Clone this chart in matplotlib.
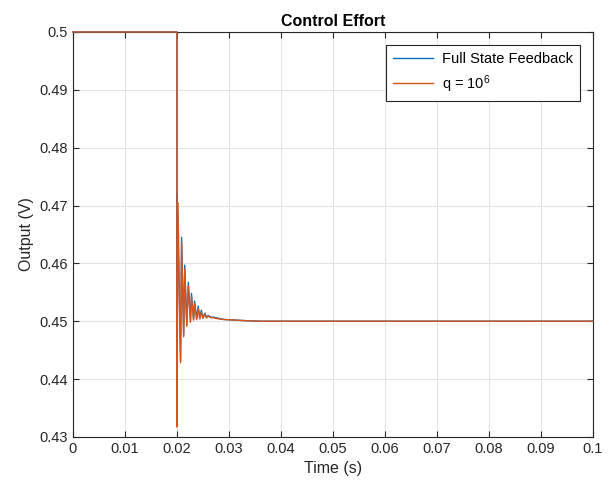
import numpy as np
import matplotlib
matplotlib.use("Agg")
import matplotlib.pyplot as plt

plt.rcParams['font.family'] = ['Liberation Sans', 'DejaVu Sans']
plt.rcParams['mathtext.fontset'] = 'custom'
plt.rcParams['mathtext.rm'] = 'Liberation Sans'
plt.rcParams['mathtext.it'] = 'Liberation Sans:italic'

# Full State Feedback (peaks / troughs)
t_fsf = [0, 0.02, 0.02, 0.02005, 0.0207, 0.0209, 0.0213, 0.0215, 0.0219, 0.0222,
         0.0226, 0.0228, 0.0232, 0.0234, 0.0238, 0.0241, 0.0244, 0.0247, 0.0250,
         0.0254, 0.0257, 0.026, 0.0265, 0.027, 0.028, 0.029, 0.031, 0.033, 0.036, 0.1]
y_fsf = [0.5, 0.5, 0.4325, 0.4720, 0.4432, 0.4645, 0.4476, 0.4597, 0.4494, 0.4567,
         0.4500, 0.4548, 0.4503, 0.4535, 0.4504, 0.4526, 0.4505, 0.4519, 0.4506,
         0.4514, 0.4506, 0.4510, 0.4507, 0.4507, 0.4505, 0.4503, 0.4502, 0.4501, 0.4500, 0.4500]

# q = 10^6
t_q = [0, 0.02, 0.02, 0.0202, 0.0207, 0.0209, 0.0213, 0.0215, 0.0219, 0.0222,
       0.0226, 0.0228, 0.0232, 0.0234, 0.0238, 0.0241, 0.0244, 0.0247, 0.0250,
       0.0254, 0.0257, 0.026, 0.0265, 0.027, 0.028, 0.029, 0.031, 0.033, 0.036, 0.1]
y_q = [0.5, 0.5, 0.4317, 0.4705, 0.4428, 0.4638, 0.4473, 0.4590, 0.4491, 0.4561,
       0.4498, 0.4543, 0.4502, 0.4531, 0.4503, 0.4522, 0.4504, 0.4516, 0.4505,
       0.4512, 0.4506, 0.4509, 0.4506, 0.4506, 0.4504, 0.4503, 0.4502, 0.4501, 0.4500, 0.4500]

xticks = np.round(np.arange(0, 0.1001, 0.01), 2)
yticks = np.round(np.arange(0.43, 0.5001, 0.01), 2)

fig = plt.figure(figsize=(6.13, 4.92), dpi=100)
ax = fig.add_axes([0.119, 0.112, 0.848, 0.823])

ax.plot(t_fsf, y_fsf, color='#0072BD', lw=1.0, label='Full State Feedback', clip_on=False, zorder=3)
ax.plot(t_q, y_q, color='#D95319', lw=1.0, label='q = $10^6$', clip_on=False, zorder=3)

ax.set_xlim(0, 0.1)
ax.set_ylim(0.43, 0.5)
ax.set_xticks(xticks)
ax.set_xticklabels(['0' if v == 0 else f'{v:g}' for v in xticks])
ax.set_yticks(yticks)
ax.set_yticklabels([f'{v:g}' for v in yticks])
ax.tick_params(direction='in', length=4, labelsize=10.5, colors='#262626', top=True, right=True,
               labeltop=False, labelright=False)
ax.grid(True, color='#e3e3e3', lw=0.8)
ax.set_axisbelow(True)
for s in ax.spines.values():
    s.set_color('#262626')
    s.set_linewidth(0.8)

ax.set_xlabel('Time (s)', fontsize=11.5, color='#262626')
ax.set_ylabel('Output (V)', fontsize=11.5, color='#262626')
ax.set_title('Control Effort', fontsize=11.5, fontweight='bold', pad=4)

leg = ax.legend(loc='upper right', fontsize=10.5, fancybox=False, framealpha=1,
                edgecolor='#262626', borderaxespad=0.9, handlelength=2.8,
                handletextpad=0.6, borderpad=0.45)
leg.get_frame().set_linewidth(0.8)
leg.set_zorder(5)

fig.savefig('out.png', dpi=100)
